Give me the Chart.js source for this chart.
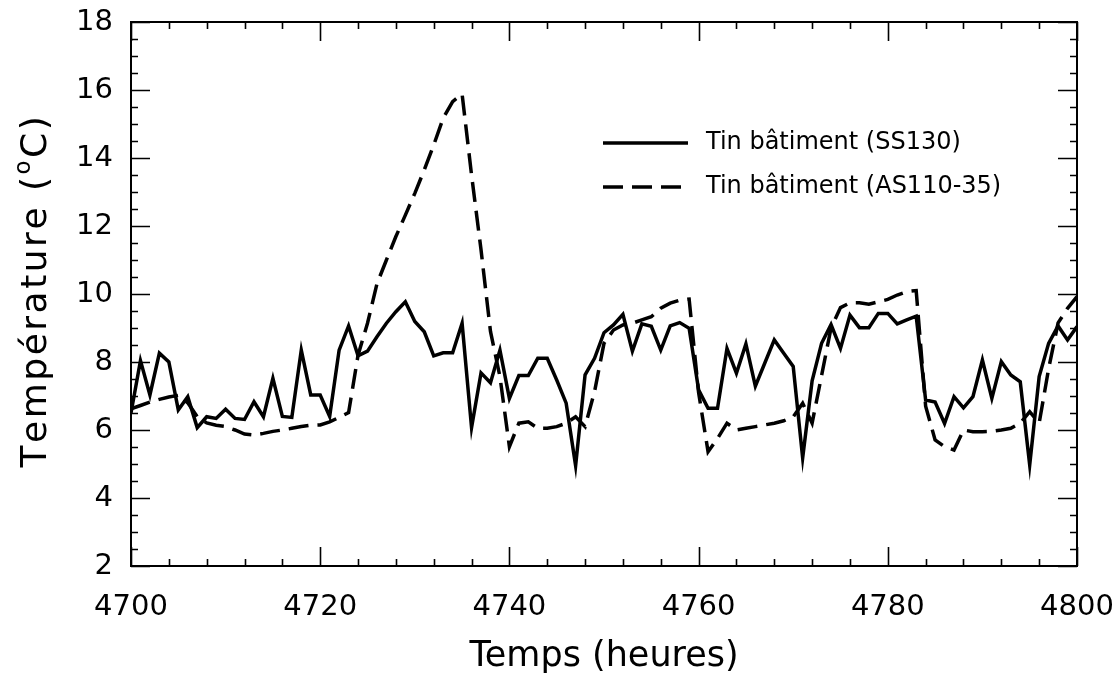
<!DOCTYPE html>
<html>
<head>
<meta charset="utf-8">
<script src="https://cdn.jsdelivr.net/npm/chart.js@4/dist/chart.umd.min.js"></script>
<style>
  html, body { margin: 0; padding: 0; background: #fff; }
  #wrap { width: 1117px; height: 698px; }
</style>
</head>
<body>
<div id="wrap"><canvas id="chart" width="1117" height="698"></canvas></div>
<script>
const hours = [
  4700, 4701, 4702, 4703, 4704, 4705, 4706, 4707, 4708, 4709,
  4710, 4711, 4712, 4713, 4714, 4715, 4716, 4717, 4718, 4719,
  4720, 4721, 4722, 4723, 4724, 4725, 4726, 4727, 4728, 4729,
  4730, 4731, 4732, 4733, 4734, 4735, 4736, 4737, 4738, 4739,
  4740, 4741, 4742, 4743, 4744, 4745, 4746, 4747, 4748, 4749,
  4750, 4751, 4752, 4753, 4754, 4755, 4756, 4757, 4758, 4759,
  4760, 4761, 4762, 4763, 4764, 4765, 4766, 4767, 4768, 4769,
  4770, 4771, 4772, 4773, 4774, 4775, 4776, 4777, 4778, 4779,
  4780, 4781, 4782, 4783, 4784, 4785, 4786, 4787, 4788, 4789,
  4790, 4791, 4792, 4793, 4794, 4795, 4796, 4797, 4798, 4799,
  4800
]

// Tin bâtiment (SS130)
const tinSS130 = [
  6.50, 8.04, 7.03, 8.26, 8.00, 6.59, 6.98, 6.07, 6.39, 6.34,
  6.61, 6.34, 6.31, 6.83, 6.39, 7.52, 6.40, 6.37, 8.35, 7.03,
  7.03, 6.40, 8.35, 9.06, 8.18, 8.32, 8.74, 9.14, 9.48, 9.77,
  9.19, 8.89, 8.18, 8.27, 8.27, 9.14, 6.07, 7.68, 7.39, 8.35,
  6.93, 7.60, 7.60, 8.11, 8.11, 7.47, 6.79, 4.95, 7.62, 8.11,
  8.86, 9.09, 9.40, 8.32, 9.12, 9.05, 8.35, 9.06, 9.16, 8.99,
  7.18, 6.64, 6.64, 8.40, 7.67, 8.53, 7.29, 7.97, 8.65, 8.26,
  7.87, 5.18, 7.45, 8.55, 9.10, 8.40, 9.38, 9.01, 9.01, 9.43,
  9.43, 9.12, 9.24, 9.35, 6.88, 6.82, 6.19, 6.98, 6.65, 6.98,
  8.06, 6.93, 8.01, 7.62, 7.42, 4.97, 7.57, 8.55, 9.06, 8.65,
  9.04
]

// Tin bâtiment (AS110-35)
const tinAS110 = [
  6.62, 6.72, 6.82, 6.90, 6.97, 7.02, 6.80, 6.39, 6.21, 6.14,
  6.10, 6.00, 5.88, 5.85, 5.90, 5.96, 6.00, 6.05, 6.10, 6.14,
  6.15, 6.24, 6.37, 6.51, 8.20, 9.14, 10.30, 11.00, 11.69, 12.32,
  12.96, 13.65, 14.38, 15.17, 15.66, 15.88, 13.50, 11.30, 8.90, 7.57,
  5.51, 6.20, 6.24, 6.05, 6.05, 6.10, 6.20, 6.39, 6.10, 7.13,
  8.55, 8.94, 9.09, 9.14, 9.24, 9.33, 9.58, 9.73, 9.82, 9.85,
  7.10, 5.36, 5.75, 6.20, 6.00, 6.05, 6.10, 6.15, 6.20, 6.27,
  6.39, 6.79, 6.20, 7.60, 9.00, 9.60, 9.74, 9.74, 9.70, 9.77,
  9.84, 9.97, 10.07, 10.10, 6.70, 5.71, 5.51, 5.41, 6.00, 5.95,
  5.95, 5.96, 6.00, 6.05, 6.20, 6.54, 6.20, 7.80, 9.15, 9.58,
  9.92
]

const xTicks = [4700, 4720, 4740, 4760, 4780, 4800]
const yTicks = [2, 4, 6, 8, 10, 12, 14, 16, 18]

const FONT = "'DejaVu Sans', 'Verdana', sans-serif"

// inward ticks on all four sides + frame, legend and axis titles
const decorations = {
  id: "decorations",
  afterDraw(chart) {
    const { ctx, chartArea: a, scales: { x, y } } = chart
    ctx.save()
    ctx.strokeStyle = "#000"
    ctx.fillStyle = "#000"
    ctx.lineWidth = 2
    ctx.lineCap = "butt"
    ctx.strokeRect(a.left, a.top, a.right - a.left, a.bottom - a.top)

    const major = 19, minor = 7
    ctx.beginPath()
    for (let v = xTicks[0]; v <= xTicks[xTicks.length - 1]; v += 4) {
      const px = Math.round(x.getPixelForValue(v)) + 0.5
      const len = xTicks.includes(v) ? major : minor
      ctx.moveTo(px, a.bottom); ctx.lineTo(px, a.bottom - len)
      ctx.moveTo(px, a.top); ctx.lineTo(px, a.top + len)
    }
    for (let v = yTicks[0]; v <= yTicks[yTicks.length - 1]; v += 0.5) {
      const py = Math.round(y.getPixelForValue(v)) + 0.5
      const len = yTicks.includes(v) ? major : minor
      ctx.moveTo(a.left, py); ctx.lineTo(a.left + len, py)
      ctx.moveTo(a.right, py); ctx.lineTo(a.right - len, py)
    }
    ctx.lineWidth = 1.6
    ctx.stroke()

    // legend
    ctx.font = "24px " + FONT
    ctx.textBaseline = "middle"
    ctx.textAlign = "left"
    chart.data.datasets.forEach((ds, i) => {
      const ly = 143 + i * 44
      ctx.beginPath()
      ctx.lineWidth = ds.borderWidth
      ctx.setLineDash(ds.borderDash || [])
      ctx.moveTo(603, ly); ctx.lineTo(688, ly)
      ctx.stroke()
      ctx.setLineDash([])
      ctx.fillText(ds.label, 706, ly)
    })

    // x title
    ctx.font = "35px " + FONT
    ctx.textAlign = "center"
    ctx.fillText("Temps (heures)", (a.left + a.right) / 2, 657)

    // y title with superscript o
    const spacing = 2.5
    const big = "36px " + FONT, small = "23px " + FONT
    const parts = [["Température (", big, 0], ["o", small, -13], ["C)", big, 0]]
    const widthOf = (p) => {
      ctx.font = p[1]
      return ctx.measureText(p[0]).width + spacing * p[0].length
    }
    const total = parts.reduce((s, p) => s + widthOf(p), 0)
    ctx.translate(37, (a.top + a.bottom) / 2)
    ctx.rotate(-Math.PI / 2)
    ctx.textAlign = "left"
    let cx = -total / 2
    parts.forEach(p => {
      ctx.font = p[1]
      for (const ch of p[0]) {
        ctx.fillText(ch, cx, p[2])
        cx += ctx.measureText(ch).width + spacing
      }
    })
    ctx.restore()
  }
}

const noScalePadding = (scale) => {
  scale.paddingTop = 0
  scale.paddingBottom = 0
  scale.paddingLeft = 0
  scale.paddingRight = 0
}

new Chart(document.getElementById("chart").getContext("2d"), {
  type: "line",
  data: {
    datasets: [{
      label: "Tin bâtiment (SS130)",
      data: hours.map((h, i) => ({ x: h, y: tinSS130[i] })),
      borderColor: "#000",
      borderWidth: 3.5,
      pointRadius: 0,
      tension: 0,
      fill: false
    }, {
      label: "Tin bâtiment (AS110-35)",
      data: hours.map((h, i) => ({ x: h, y: tinAS110[i] })),
      borderColor: "#000",
      borderWidth: 3.5,
      borderDash: [20, 9],
      pointRadius: 0,
      tension: 0,
      fill: false
    }]
  },
  options: {
    responsive: false,
    animation: false,
    layout: { padding: { top: 22, right: 40, left: 0, bottom: 0 } },
    plugins: {
      legend: { display: false },
      tooltip: { enabled: false }
    },
    scales: {
      x: {
        type: "linear",
        min: 4700,
        max: 4800,
        afterBuildTicks: (scale) => { scale.ticks = xTicks.map(v => ({ value: v })) },
        afterFit: (scale) => { scale.height = 132; noScalePadding(scale) },
        ticks: {
          color: "#000",
          padding: 24,
          font: { family: FONT, size: 29 },
          callback: (v) => String(v)
        },
        grid: { display: false, drawTicks: false },
        border: { display: false }
      },
      y: {
        min: 2,
        max: 18,
        afterBuildTicks: (scale) => { scale.ticks = yTicks.map(v => ({ value: v })) },
        afterFit: (scale) => { scale.width = 131; noScalePadding(scale) },
        ticks: {
          color: "#000",
          padding: 18,
          font: { family: FONT, size: 29 },
          callback: (v) => String(v)
        },
        grid: { display: false, drawTicks: false },
        border: { display: false }
      }
    }
  },
  plugins: [decorations]
})
</script>
</body>
</html>
